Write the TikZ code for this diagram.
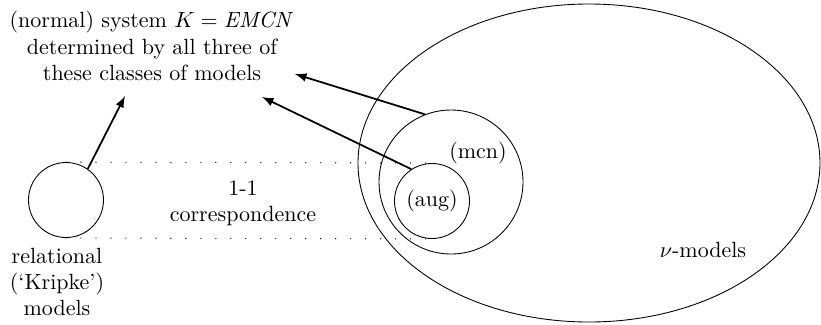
\documentclass[tikz,border=0pt]{standalone}
\usetikzlibrary{shapes.geometric,arrows}
\newcommand\pxu{0.4545pt}
\begin{document}
\begin{tikzpicture}[x=0.4545pt,y=-0.4545pt,
  ring/.style={draw,circle,line width=0.4pt,inner sep=0pt},
  conn/.style={-latex,line width=0.8pt},
  corr/.style={line width=0.6pt,dash pattern=on 0.01pt off 6.8pt,line cap=round},
  lbl/.style={align=center,inner sep=0pt,font=\normalsize}]
\useasboundingbox (0,0) rectangle (821,324);
\node[draw,ellipse,line width=0.4pt,inner sep=0pt,minimum width=462*\pxu,minimum height=318*\pxu] (nu) at (589,163) {};
\node[ring,minimum size=144*\pxu] (mcn) at (451,182) {};
\node[ring,minimum size=75*\pxu] (aug) at (432,201) {(aug)};
\node[ring,minimum size=75*\pxu] (kr) at (66,200) {};
\node[lbl] (mcnl) at (478,153) {(mcn)};
\node[lbl] (nul) at (703,250) {$\nu$-models};
\node[lbl] (top) at (152,46) {(normal) system $K = \mathit{EMCN}$\\determined by all three of\\these classes of models};
\node[lbl] (krl) at (57,282) {relational\\(`Kripke')\\models};
\node[lbl] (cor) at (243,203) {1-1\\correspondence};
\coordinate (t1) at (125,96);
\coordinate (t2) at (295,74);
\coordinate (t3) at (262,97);
\draw[corr] (kr.north) -- (aug.north);
\draw[corr] (kr.south) -- (aug.south);
\draw[conn] (kr.55) -- (t1);
\draw[conn] (mcn.111) -- (t2);
\draw[conn] (aug.123) -- (t3);
\end{tikzpicture}
\end{document}
